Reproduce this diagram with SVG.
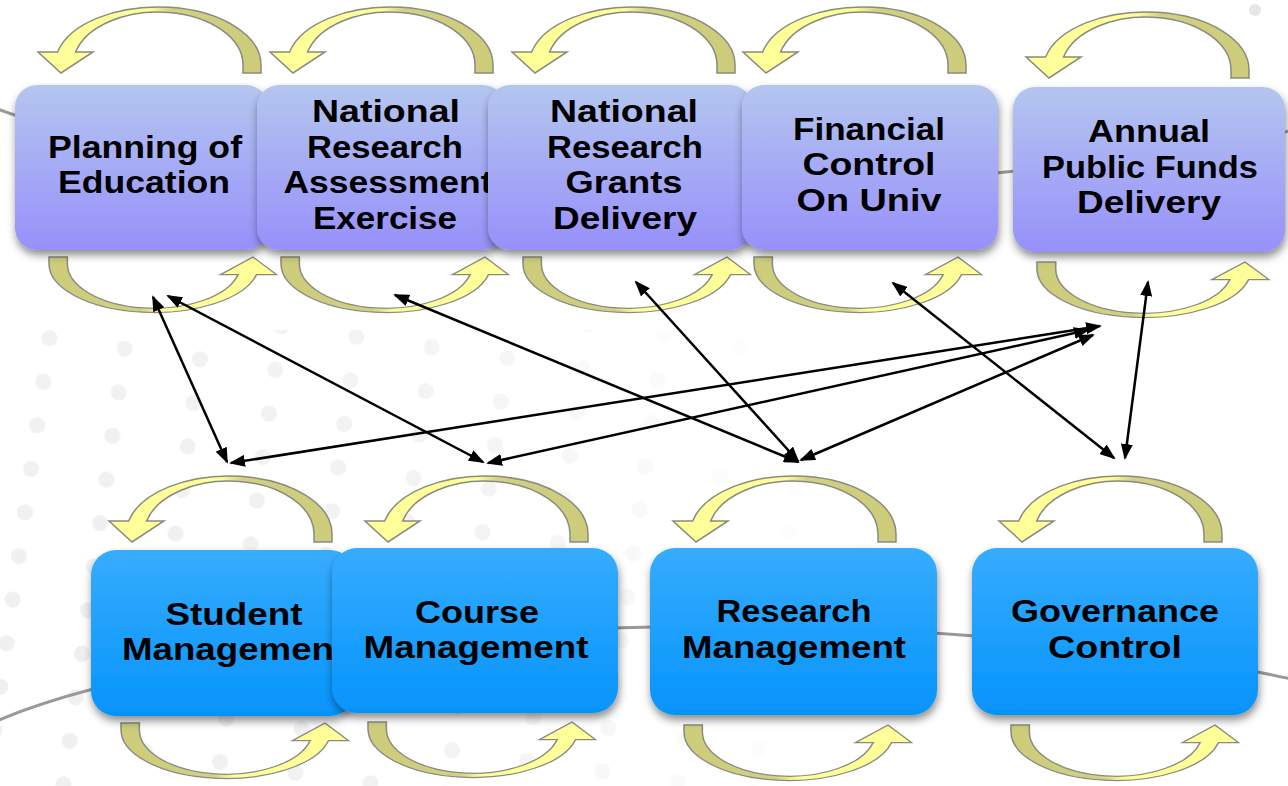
<svg xmlns="http://www.w3.org/2000/svg" xmlns:xlink="http://www.w3.org/1999/xlink" width="1288" height="786" viewBox="0 0 1288 786">
<style>
.t{font-family:"Liberation Sans",Arial,sans-serif;font-weight:700;font-size:31px;fill:#000;text-anchor:middle}
.ts{text-anchor:start}
.bg{fill:none;stroke:#999;stroke-width:3}
.ca{fill:url(#caGrad);stroke:#8a8a80;stroke-width:1.5;vector-effect:non-scaling-stroke}
.boxT{fill:url(#gTop);filter:url(#sh)}
.boxB{fill:url(#gBot);filter:url(#sh)}
.cn{fill:none;stroke:#000;stroke-width:2.5;marker-start:url(#ah);marker-end:url(#ah)}
</style>
<defs>
<linearGradient id="gTop" x1="0" y1="0" x2="0" y2="1">
<stop offset="0" stop-color="#b4c6ef"/>
<stop offset="1" stop-color="#9790fa"/>
</linearGradient>
<linearGradient id="gBot" x1="0" y1="0" x2="0" y2="1">
<stop offset="0" stop-color="#37acfe"/>
<stop offset="1" stop-color="#0594fb"/>
</linearGradient>
<linearGradient id="caGrad" x1="0" y1="0" x2="1" y2="0">
<stop offset="0" stop-color="#ffff99"/>
<stop offset="0.5" stop-color="#ffff99"/>
<stop offset="0.6" stop-color="#d2d084"/>
<stop offset="1" stop-color="#cccc7a"/>
</linearGradient>
<filter id="sh" x="-10%" y="-10%" width="120%" height="130%">
<feDropShadow dx="1" dy="5" stdDeviation="4" flood-color="#000" flood-opacity="0.45"/>
</filter>
<marker id="ah" viewBox="0 0 16 12" refX="14" refY="6" markerWidth="16" markerHeight="12" markerUnits="userSpaceOnUse" orient="auto-start-reverse">
<path d="M0,0 L16,6 L0,12 Z" fill="#000"/>
</marker>
<path id="ca" d="M0,0 L0,-8 A103,58 0 0 0 -203.4,-21 L-223,-21 L-200,0 L-168,-21 L-185.4,-21 A85,53 0 0 1 -18,-8 L-18,0 Z"/>
<pattern id="dots" width="76" height="44" patternUnits="userSpaceOnUse" patternTransform="rotate(8)">
<circle cx="20" cy="20" r="8" fill="#efefef"/>
</pattern>
<radialGradient id="fadeG" cx="80" cy="640" r="820" gradientUnits="userSpaceOnUse">
<stop offset="0" stop-color="#fff" stop-opacity="1"/>
<stop offset="0.5" stop-color="#fff" stop-opacity="0.75"/>
<stop offset="0.8" stop-color="#fff" stop-opacity="0.2"/>
<stop offset="1" stop-color="#fff" stop-opacity="0"/>
</radialGradient>
<mask id="fade">
<rect x="0" y="0" width="1288" height="786" fill="url(#fadeG)"/>
</mask>
</defs>

<rect width="1288" height="786" fill="#fff"/>
<g id="background">
<rect x="0" y="330" width="1288" height="456" fill="url(#dots)" mask="url(#fade)"/>
<circle cx="1255" cy="10" r="6" fill="#e6e6e6"/>
<path class="bg" d="M -10,106 A 750,130 0 0 0 1300,128.2"/>
<path class="bg" d="M -10,724 A 800,170 0 0 1 1300,681"/>
</g>

<g id="node-planning">
<use href="#ca" class="ca" transform="translate(261,73)"/>
<use href="#ca" class="ca" transform="translate(49,257) scale(-1.02,-0.84)"/>
<rect class="boxT" x="15" y="85" width="253" height="165" rx="22"/>
<text class="t" x="145" y="158" textLength="194" lengthAdjust="spacingAndGlyphs">Planning of</text>
<text class="t" x="144" y="193" textLength="172" lengthAdjust="spacingAndGlyphs">Education</text>
</g>

<g id="node-nrae">
<use href="#ca" class="ca" transform="translate(493,73)"/>
<use href="#ca" class="ca" transform="translate(281,257) scale(-1.02,-0.84)"/>
<rect class="boxT" x="257" y="85" width="248" height="165" rx="22"/>
<text class="t" x="386" y="122" textLength="148" lengthAdjust="spacingAndGlyphs">National</text>
<text class="t" x="385" y="158" textLength="156" lengthAdjust="spacingAndGlyphs">Research</text>
<text class="t" x="388" y="193" textLength="209" lengthAdjust="spacingAndGlyphs">Assessment</text>
<text class="t" x="385" y="229" textLength="144" lengthAdjust="spacingAndGlyphs">Exercise</text>
</g>

<g id="node-nrgd">
<use href="#ca" class="ca" transform="translate(735,73)"/>
<use href="#ca" class="ca" transform="translate(523,257) scale(-1.02,-0.84)"/>
<rect class="boxT" x="488" y="85" width="264" height="165" rx="22"/>
<text class="t" x="624" y="122" textLength="148" lengthAdjust="spacingAndGlyphs">National</text>
<text class="t" x="625" y="158" textLength="156" lengthAdjust="spacingAndGlyphs">Research</text>
<text class="t" x="624" y="193" textLength="117" lengthAdjust="spacingAndGlyphs">Grants</text>
<text class="t" x="625" y="229" textLength="144" lengthAdjust="spacingAndGlyphs">Delivery</text>
</g>

<g id="node-financial">
<use href="#ca" class="ca" transform="translate(966,73)"/>
<use href="#ca" class="ca" transform="translate(754,257) scale(-1.02,-0.84)"/>
<rect class="boxT" x="742" y="85" width="256" height="165" rx="22"/>
<text class="t" x="869" y="140" textLength="152" lengthAdjust="spacingAndGlyphs">Financial</text>
<text class="t" x="869" y="175" textLength="133" lengthAdjust="spacingAndGlyphs">Control</text>
<text class="t" x="869" y="211" textLength="145" lengthAdjust="spacingAndGlyphs">On Univ</text>
</g>

<g id="node-annual">
<use href="#ca" class="ca" transform="translate(1249,78)"/>
<use href="#ca" class="ca" transform="translate(1037,262) scale(-1.04,-0.84)"/>
<rect class="boxT" x="1013" y="87" width="272" height="165" rx="22"/>
<text class="t" x="1149" y="142" textLength="122" lengthAdjust="spacingAndGlyphs">Annual</text>
<text class="t" x="1150" y="178" textLength="216" lengthAdjust="spacingAndGlyphs">Public Funds</text>
<text class="t" x="1149" y="213" textLength="144" lengthAdjust="spacingAndGlyphs">Delivery</text>
</g>

<g id="node-student">
<use href="#ca" class="ca" transform="translate(332,542)"/>
<use href="#ca" class="ca" transform="translate(121,723) scale(-1.02,-0.84)"/>
<rect class="boxB" x="91" y="550" width="264" height="166" rx="25"/>
<text class="t" x="234" y="625" textLength="137" lengthAdjust="spacingAndGlyphs">Student</text>
<text class="t ts" x="122" y="660" textLength="212" lengthAdjust="spacingAndGlyphs">Managemen</text>
</g>

<g id="node-course">
<use href="#ca" class="ca" transform="translate(588,542)"/>
<use href="#ca" class="ca" transform="translate(368,722) scale(-1.02,-0.84)"/>
<rect class="boxB" x="332" y="548" width="286" height="165" rx="25"/>
<text class="t" x="477" y="623" textLength="124" lengthAdjust="spacingAndGlyphs">Course</text>
<text class="t" x="476" y="658" textLength="225" lengthAdjust="spacingAndGlyphs">Management</text>
</g>

<g id="node-research">
<use href="#ca" class="ca" transform="translate(896,542)"/>
<use href="#ca" class="ca" transform="translate(684,725) scale(-1.02,-0.84)"/>
<rect class="boxB" x="650" y="548" width="287" height="167" rx="25"/>
<text class="t" x="794" y="622" textLength="155" lengthAdjust="spacingAndGlyphs">Research</text>
<text class="t" x="794" y="658" textLength="224" lengthAdjust="spacingAndGlyphs">Management</text>
</g>

<g id="node-governance">
<use href="#ca" class="ca" transform="translate(1222,542)"/>
<use href="#ca" class="ca" transform="translate(1011,725) scale(-1.02,-0.84)"/>
<rect class="boxB" x="972" y="548" width="286" height="167" rx="25"/>
<text class="t" x="1115" y="622" textLength="208" lengthAdjust="spacingAndGlyphs">Governance</text>
<text class="t" x="1115" y="658" textLength="134" lengthAdjust="spacingAndGlyphs">Control</text>
</g>

<g id="connectors">
<line class="cn" x1="153" y1="297" x2="227" y2="462"/>
<line class="cn" x1="168" y1="296" x2="483" y2="462"/>
<line class="cn" x1="395" y1="295" x2="798" y2="462"/>
<line class="cn" x1="636" y1="282" x2="798" y2="461"/>
<line class="cn" x1="893" y1="283" x2="1114" y2="458"/>
<line class="cn" x1="1148" y1="282" x2="1125" y2="458"/>
<line class="cn" x1="231" y1="463" x2="1100" y2="326"/>
<line class="cn" x1="488" y1="463" x2="1088" y2="330"/>
<line class="cn" x1="801" y1="460" x2="1093" y2="335"/>
</g>
</svg>
